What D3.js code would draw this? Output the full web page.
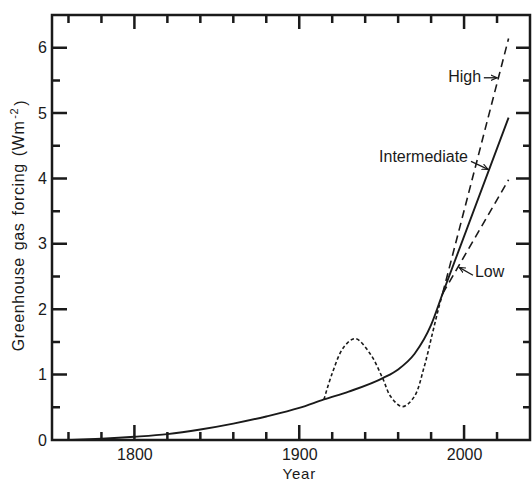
<!DOCTYPE html>
<html>
<head>
<meta charset="utf-8">
<script src="https://cdn.jsdelivr.net/npm/d3@7"></script>
<style>
  html, body { margin: 0; padding: 0; background: #fff; }
  svg { display: block; }
  text { font-family: "Liberation Sans", Arial, Helvetica, sans-serif; fill: #1a1a1a; }
</style>
</head>
<body>
<script>
// ---- data ----
const histYears   = [1762, 1780, 1800, 1820, 1840, 1860, 1880, 1900, 1915, 1930, 1951, 1960, 1970, 1980, 1987];
const histValues  = [0.00, 0.02, 0.05, 0.09, 0.16, 0.25, 0.36, 0.49, 0.62, 0.74, 0.95, 1.08, 1.32, 1.76, 2.24];
const scenYears   = [1987, 2027];
const intermediateValues = [2.24, 4.93];
const highValues  = [2.24, 6.14];
const lowValues   = [2.24, 3.98];
const dottedYears  = [1915, 1920, 1927, 1934, 1943, 1950.5, 1955.6, 1962.6, 1969.7, 1975.8, 1980.8, 1984.8, 1987];
const dottedValues = [0.62, 1.02, 1.42, 1.55, 1.32, 0.95, 0.66, 0.51, 0.66, 1.12, 1.63, 2.04, 2.24];
const xMajorTicks = [1800, 1900, 2000];
const xMinorTicks = [1760, 1780, 1820, 1840, 1860, 1880, 1920, 1940, 1960, 1980, 2020];
const yMajorTicks = [0, 1, 2, 3, 4, 5, 6];
const yMinorTicks = [0.5, 1.5, 2.5, 3.5, 4.5, 5.5];
const xLabel = "Year";
const yLabel = "Greenhouse gas forcing (Wm";
const yLabelSup = "-2";
// annotations: label text anchored in data units, arrow from -> to
const annotations = [
  { text: "High", tx: 2010.3, tv: 5.54, anchor: "end", from: [2012.0, 5.54], to: [2020.0, 5.54] },
  { text: "Intermediate", tx: 2002.4, tv: 4.31, anchor: "end", from: [2004.2, 4.26], to: [2014.6, 4.14] },
  { text: "Low", tx: 2006.6, tv: 2.55, anchor: "start", from: [2005.4, 2.52], to: [1997.0, 2.64] }
];

// ---- setup ----
const W = 532, H = 483;
const svg = d3.select("body").append("svg").attr("width", W).attr("height", H)
  .attr("viewBox", `0 0 ${W} ${H}`);
const x = d3.scaleLinear().domain([1750, 2040]).range([52, 530]);
const y = d3.scaleLinear().domain([0, 6.5]).range([440, 15]);
const ink = "#1a1a1a";
const plotBottom = y.range()[0], plotTop = y.range()[1];
const plotLeft = x.range()[0], plotRight = x.range()[1];

svg.append("defs").append("marker")
  .attr("id", "arr").attr("viewBox", "0 0 10 10").attr("refX", 9).attr("refY", 5)
  .attr("markerWidth", 7).attr("markerHeight", 7).attr("markerUnits", "userSpaceOnUse")
  .attr("orient", "auto")
  .append("path").attr("d", "M0,1 L9,5 L0,9").attr("fill", "none").attr("stroke", ink).attr("stroke-width", 1.6);

// ---- frame + inward ticks on all four sides as one path ----
const fp = d3.path();
fp.moveTo(plotLeft, plotTop); fp.lineTo(plotRight, plotTop); fp.lineTo(plotRight, plotBottom);
fp.lineTo(plotLeft, plotBottom); fp.closePath();
const tickSpecs = [
  { vals: xMajorTicks, side: "bottom", len: 15 }, { vals: xMinorTicks, side: "bottom", len: 8 },
  { vals: xMajorTicks, side: "top", len: 14 },    { vals: xMinorTicks, side: "top", len: 8 },
  { vals: yMajorTicks.filter(v => v > 0), side: "left", len: 15 }, { vals: yMinorTicks, side: "left", len: 8 },
  { vals: yMajorTicks.filter(v => v > 0), side: "right", len: 14 }, { vals: yMinorTicks, side: "right", len: 7 }
];
tickSpecs.forEach(s => s.vals.forEach(v => {
  if (s.side === "bottom") { fp.moveTo(x(v), plotBottom); fp.lineTo(x(v), plotBottom - s.len); }
  if (s.side === "top")    { fp.moveTo(x(v), plotTop);    fp.lineTo(x(v), plotTop + s.len); }
  if (s.side === "left")   { fp.moveTo(plotLeft, y(v));   fp.lineTo(plotLeft + s.len, y(v)); }
  if (s.side === "right")  { fp.moveTo(plotRight, y(v));  fp.lineTo(plotRight - s.len, y(v)); }
}));
svg.append("path").attr("d", fp.toString())
  .attr("fill", "none").attr("stroke", ink).attr("stroke-width", 2.5);

// ---- tick labels via d3 axes ----
function styleAxis(g) {
  g.select(".domain").remove();
  g.selectAll(".tick line").remove();
  g.selectAll(".tick text").style("font-size", "16px").attr("fill", ink);
}
svg.append("g").attr("transform", `translate(0,${plotBottom})`)
  .call(d3.axisBottom(x).tickValues(xMajorTicks).tickSize(0).tickPadding(7).tickFormat(d3.format("d")))
  .call(styleAxis).selectAll(".tick text").attr("dy", "0.8em");
svg.append("g").attr("transform", `translate(${plotLeft},0)`)
  .call(d3.axisLeft(y).tickValues(yMajorTicks).tickSize(0).tickPadding(5).tickFormat(d3.format("d")))
  .call(styleAxis);

// axis titles
svg.append("text").attr("x", x(1900)).attr("y", 475).attr("text-anchor", "middle")
  .attr("dominant-baseline", "middle").style("font-size", "15px").style("letter-spacing", "0.8px").text(xLabel);
const yt = svg.append("text").attr("transform", `translate(20,${(plotTop + plotBottom) / 2 - 2}) rotate(-90)`)
  .attr("text-anchor", "middle").attr("dominant-baseline", "middle")
  .style("font-size", "16px").style("letter-spacing", "0.6px").style("word-spacing", "2px");
yt.append("tspan").text(yLabel);
yt.append("tspan").attr("dx", "2").attr("dy", "-0.45em").style("font-size", "11px").text(yLabelSup);
yt.append("tspan").attr("dx", "2").attr("dy", "0.45em").text(")");

// ---- lines ----
const zip = (xs, vs) => xs.map((d, i) => [d, vs[i]]);
const lineSmooth = d3.line().x(d => x(d[0])).y(d => y(d[1])).curve(d3.curveMonotoneX);
const lineCR = d3.line().x(d => x(d[0])).y(d => y(d[1])).curve(d3.curveCatmullRom.alpha(0.5));
const lineStraight = d3.line().x(d => x(d[0])).y(d => y(d[1]));

svg.append("path").attr("d", lineCR(zip(dottedYears, dottedValues)))
  .attr("fill", "none").attr("stroke", ink).attr("stroke-width", 1.6).attr("stroke-dasharray", "3.5,2.5");
svg.append("path").attr("d", lineStraight(zip(scenYears, highValues)))
  .attr("fill", "none").attr("stroke", ink).attr("stroke-width", 1.6).attr("stroke-dasharray", "8,5");
svg.append("path").attr("d", lineStraight(zip(scenYears, lowValues)))
  .attr("fill", "none").attr("stroke", ink).attr("stroke-width", 1.6).attr("stroke-dasharray", "8,5");
svg.append("path").attr("d", lineSmooth(zip(histYears, histValues).concat(zip(scenYears, intermediateValues).slice(1))))
  .attr("fill", "none").attr("stroke", ink).attr("stroke-width", 1.9);

// ---- annotations ----
annotations.forEach(a => {
  svg.append("text").attr("x", x(a.tx)).attr("y", y(a.tv)).attr("text-anchor", a.anchor)
    .attr("dominant-baseline", "middle").style("font-size", "16px").text(a.text);
  svg.append("line").attr("x1", x(a.from[0])).attr("y1", y(a.from[1]))
    .attr("x2", x(a.to[0])).attr("y2", y(a.to[1]))
    .attr("stroke", ink).attr("stroke-width", 1.3).attr("marker-end", "url(#arr)");
});
</script>
</body>
</html>
